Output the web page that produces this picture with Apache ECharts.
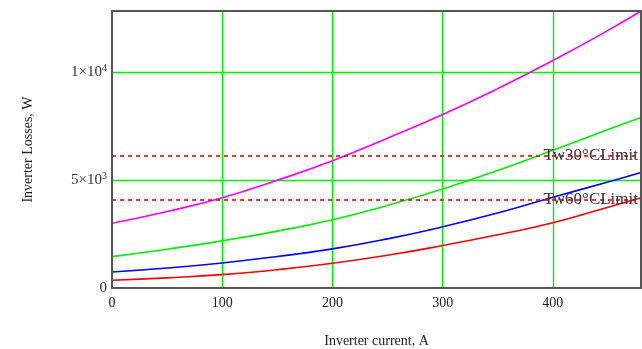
<!DOCTYPE html>
<html>
<head>
<meta charset="utf-8">
<script src="https://cdn.jsdelivr.net/npm/echarts@6/dist/echarts.min.js"></script>
<style>html,body{margin:0;padding:0;background:#fff}#c{width:642px;height:349px}</style>
</head>
<body>
<div id="c"></div>
<script>
var current = [0, 50, 100, 150, 200, 250, 300, 350, 400, 450, 480];
var magentaLoss = [3000, 3550, 4186, 5000, 5907, 6950, 8047, 9250, 10550, 11950, 12850];
var greenLoss   = [1456, 1800, 2186, 2640, 3163, 3830, 4591, 5450, 6386, 7350, 7907];
var blueLoss    = [744, 930, 1163, 1460, 1814, 2280, 2837, 3480, 4209, 4920, 5363];
var redLoss     = [358, 470, 619, 850, 1147, 1520, 1969, 2470, 3023, 3750, 4186];
var limitNames  = ['Tw30\u00B0CLimit', 'Tw60\u00B0CLimit'];
var limitValues = [6140, 4110];
var yTickLabels = {0: '0', 5000: '5\u00D710{s|3}', 10000: '1\u00D710{s|4}'};

function pairs(ys){ return current.map(function(x,i){ return [x, ys[i]]; }); }
var font = 'Liberation Serif';
var chart = echarts.init(document.getElementById('c'), null, {renderer:'canvas'});
function line(name, ys, color, ml){
  var s = {name:name, type:'line', data:pairs(ys), smooth:true, showSymbol:false,
    lineStyle:{color:color, width:1.6}, itemStyle:{color:color}, z:3, animation:false};
  if(ml) s.markLine = ml;
  return s;
}
var markLine = {
  silent:true, symbol:['none','none'], animation:false,
  lineStyle:{color:'#ff0000', type:[4,4], width:1.6, opacity:1},
  emphasis:{disabled:true},
  label:{position:'insideEnd', formatter:'{b}', color:'#333', fontFamily:font, fontSize:17, distance:[3,0]},
  data: limitNames.map(function(n,i){ return {name:n, yAxis:limitValues[i],
    lineStyle:{color:'#ff0000', type:[4,4], width:1.6, opacity:1}}; })
};
chart.setOption({
  animation:false,
  grid:{left:112, top:11, right:1, bottom:61, show:true, borderColor:'#555', borderWidth:2, z:10,
    containLabel:false, outerBoundsMode:'none'},
  xAxis:{type:'value', min:0, max:480, interval:100,
    name:'Inverter current, A', nameLocation:'middle', nameGap:46,
    nameTextStyle:{fontFamily:font, fontSize:14, color:'#222'},
    axisLine:{show:true, lineStyle:{color:'#555', width:2}}, axisTick:{show:false},
    axisLabel:{showMaxLabel:false, fontFamily:font, fontSize:14, color:'#222', margin:8},
    splitLine:{show:true, showMinLine:false, showMaxLine:false, lineStyle:{color:'#00ee00', width:1.4}}},
  yAxis:{type:'value', min:0, max:12850, interval:5000,
    name:'Inverter Losses, W', nameLocation:'middle', nameGap:77, nameRotate:90,
    nameTextStyle:{fontFamily:font, fontSize:14, color:'#222'},
    axisLine:{show:true, lineStyle:{color:'#555', width:2}}, axisTick:{show:false},
    axisLabel:{showMaxLabel:false, fontFamily:font, fontSize:15, color:'#333', margin:5,
      formatter:function(v){ return yTickLabels[v] !== undefined ? yTickLabels[v] : ''; },
      rich:{s:{fontFamily:font, fontSize:10, color:'#333', verticalAlign:'top', padding:[0,0,8,0]}}},
    splitLine:{show:true, showMinLine:false, showMaxLine:false, lineStyle:{color:'#00ee00', width:1.4}}},
  series:[
    line('magenta', magentaLoss, '#ff00ff'),
    line('green', greenLoss, '#00ee00', markLine),
    line('blue', blueLoss, '#0000ff'),
    line('red', redLoss, '#ff0000')
  ]
});
</script>
</body>
</html>
